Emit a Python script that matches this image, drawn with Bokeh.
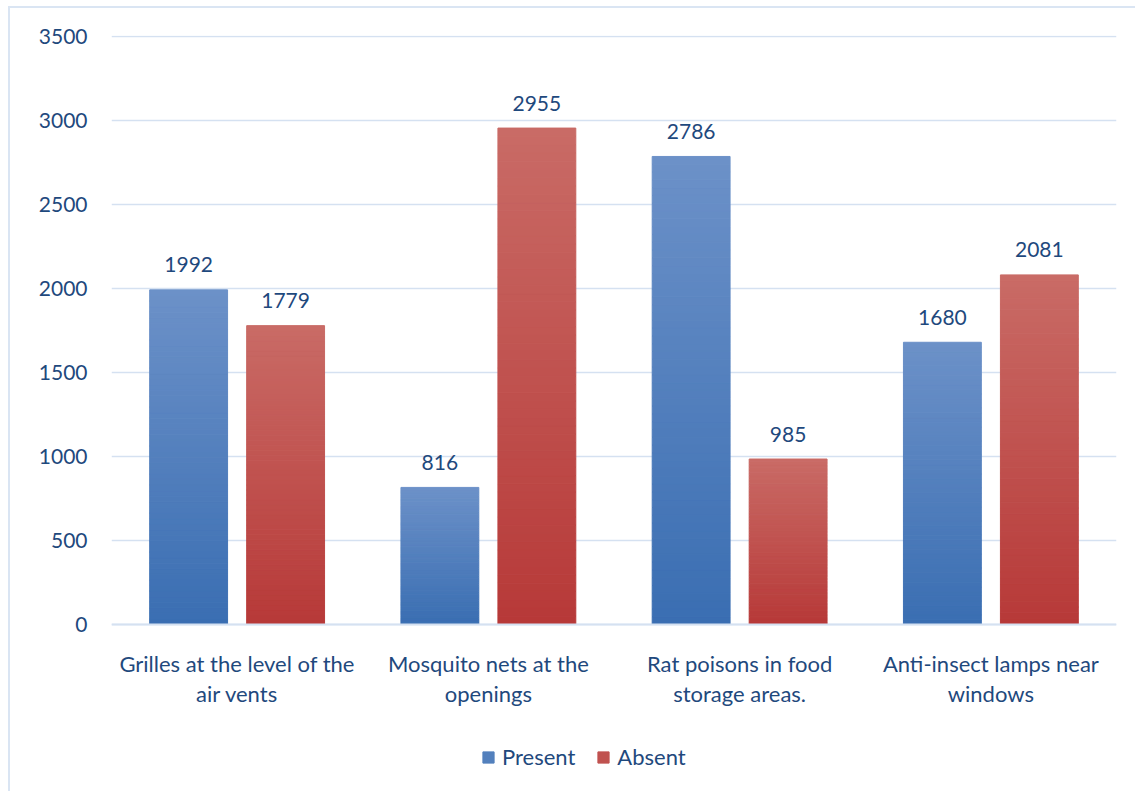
from bokeh.plotting import figure
from bokeh.models import (ColumnDataSource, FactorRange, Range1d, Legend, LegendItem,
                          FixedTicker, Span)
from bokeh.transform import dodge
from bokeh.core.properties import value
from bokeh.embed import file_html
from bokeh.resources import INLINE

# --- data -------------------------------------------------------------------
categories = [
    "Grilles at the level of the\nair vents",
    "Mosquito nets at the\nopenings",
    "Rat poisons in food\nstorage areas.",
    "Anti-insect lamps near\nwindows",
]
series_names = ["Present", "Absent"]
present = [1992, 816, 2786, 1680]
absent = [1779, 2955, 985, 2081]
y_ticks = [0, 500, 1000, 1500, 2000, 2500, 3000, 3500]

# --- styling ----------------------------------------------------------------
FONT = "Lato"
TEXT_COLOR = "#1F497D"
GRID_COLOR = "#D5E1F1"
FRAME_COLOR = "#DAE5F3"
BLUE_TOP, BLUE_BOTTOM = (0x6C, 0x91, 0xC8), (0x3A, 0x6E, 0xB2)
RED_TOP, RED_BOTTOM = (0xC9, 0x6B, 0x66), (0xB7, 0x39, 0x38)
N_SLICES = 60
BAR_W = 0.31
OFFSET = 0.193
Y_MAX = 3506
Y_MIN = -994   # room under the baseline for category names and the legend


def lerp_hex(c0, c1, t):
    return "#%02x%02x%02x" % tuple(round(a + (b - a) * t) for a, b in zip(c0, c1))


def gradient_source(values, top_rgb, bottom_rgb):
    """Split every bar into thin horizontal bands shaded bottom->top."""
    xs, bottoms, tops, colors = [], [], [], []
    for cat, v in zip(categories, values):
        for k in range(N_SLICES):
            xs.append(cat)
            bottoms.append(v * k / N_SLICES)
            tops.append(v * (k + 1) / N_SLICES)
            colors.append(lerp_hex(bottom_rgb, top_rgb, (k + 0.5) / N_SLICES))
    return ColumnDataSource(dict(x=xs, bottom=bottoms, top=tops, color=colors))


p = figure(
    width=1135, height=791,
    x_range=FactorRange(*categories, range_padding=0.0),
    y_range=Range1d(Y_MIN, Y_MAX),
    output_backend="svg", toolbar_location=None,
    min_border_left=111, min_border_right=19,
    min_border_top=35, min_border_bottom=0,
)
p.outline_line_color = None
p.background_fill_alpha = 0
p.border_fill_alpha = 0
# thin light-blue chart-area border along the top and left
p.styles = {
    "background": (
        f"linear-gradient({FRAME_COLOR},{FRAME_COLOR}) 8px 6px / 2px 100% no-repeat, "
        f"linear-gradient({FRAME_COLOR},{FRAME_COLOR}) 8px 6px / 100% 2px no-repeat, white"
    )
}

# gridlines + baseline
p.xgrid.grid_line_color = None
p.ygrid.ticker = FixedTicker(ticks=y_ticks)
p.ygrid.grid_line_color = GRID_COLOR
p.ygrid.grid_line_width = 1.5
p.add_layout(Span(location=0, dimension="width", line_color=GRID_COLOR, line_width=2))

# bars
src_p = gradient_source(present, BLUE_TOP, BLUE_BOTTOM)
src_a = gradient_source(absent, RED_TOP, RED_BOTTOM)
r_p = p.vbar(x=dodge("x", -OFFSET, range=p.x_range), bottom="bottom", top="top",
             width=BAR_W, source=src_p, fill_color="color", line_color="color", line_width=1)
r_a = p.vbar(x=dodge("x", OFFSET, range=p.x_range), bottom="bottom", top="top",
             width=BAR_W, source=src_a, fill_color="color", line_color="color", line_width=1)

# value labels above bars
lbl = ColumnDataSource(dict(
    x=categories, zero=[0] * len(categories), present=present, absent=absent,
    present_txt=[str(v) for v in present], absent_txt=[str(v) for v in absent],
))
for col, off in (("present", -OFFSET), ("absent", OFFSET)):
    p.text(x=dodge("x", off, range=p.x_range), y=col, text=col + "_txt", source=lbl,
           text_align="center", text_baseline="alphabetic", y_offset=-25,
           text_font=value(FONT), text_font_size="21px", text_color=TEXT_COLOR)

# category names under the baseline
p.text(x="x", y="zero", text="x", source=lbl, text_align="center", text_baseline="top",
       y_offset=25, text_line_height=1.14,
       text_font=value(FONT), text_font_size="22px", text_color=TEXT_COLOR)

# axes
p.xaxis.visible = False
p.yaxis.ticker = FixedTicker(ticks=y_ticks)
p.yaxis.axis_line_color = None
p.yaxis.major_tick_line_color = None
p.yaxis.minor_tick_line_color = None
p.yaxis.major_label_standoff = 18
p.yaxis.major_label_text_font = FONT
p.yaxis.major_label_text_font_size = "21px"
p.yaxis.major_label_text_color = TEXT_COLOR

# legend under the category names
legend = Legend(
    items=[LegendItem(label=series_names[0], renderers=[r_p], index=N_SLICES // 2),
           LegendItem(label=series_names[1], renderers=[r_a], index=N_SLICES // 2)],
    orientation="horizontal", location=(370, 21),
    glyph_width=14, glyph_height=14, spacing=21, padding=0, margin=0,
    label_standoff=7, label_text_font=FONT, label_text_font_size="22px",
    label_text_color=TEXT_COLOR, border_line_color=None, background_fill_alpha=0,
)
p.add_layout(legend, "center")

open("out.html", "w").write(file_html(p, INLINE))
